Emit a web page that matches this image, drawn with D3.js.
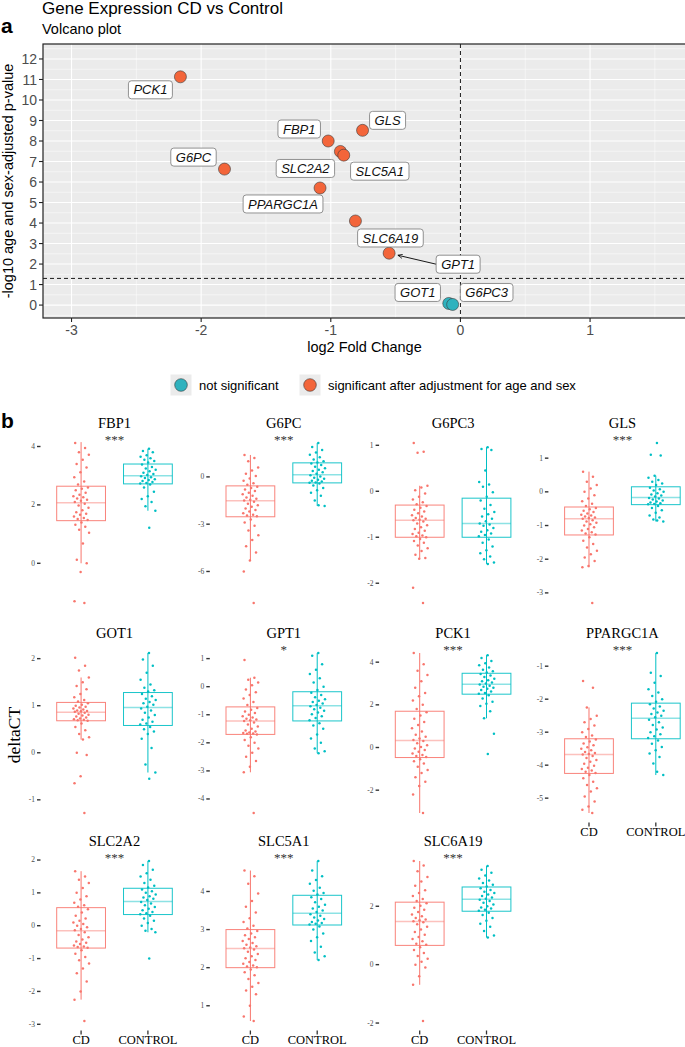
<!DOCTYPE html>
<html><head><meta charset="utf-8">
<script src="https://cdn.jsdelivr.net/npm/d3@7"></script>
<style>body{margin:0;background:#fff} svg{display:block}</style>
</head><body><svg id="c" width="685" height="1047"></svg>
<script>
// ---------------- Volcano data ----------------
const volcanoGenes   = ["PCK1","G6PC","FBP1","GLS","SLC2A2","SLC5A1","PPARGC1A","SLC6A19","GPT1","GOT1","G6PC3"];
const volcanoLogFC   = [-2.16,-1.82,-1.02,-0.755,-0.926,-0.90,-1.083,-0.81,-0.55,-0.09,-0.06];
const volcanoNegLogP = [11.13,6.63,8.0,8.52,7.49,7.31,5.71,4.1,2.53,0.08,0.03];
const volcanoSig     = [1,1,1,1,1,1,1,1,1,0,0];
const volcanoXTicks  = [-3,-2,-1,0,1];
const volcanoYTicks  = [0,1,2,3,4,5,6,7,8,9,10,11,12];
const pThreshold     = 1.3;
const legendLabels   = ["not significant","significant after adjustment for age and sex"];

// ---------------- Boxplot data ----------------
const boxGenes = ["FBP1","G6PC","G6PC3","GLS","GOT1","GPT1","PCK1","PPARGC1A","SLC2A2","SLC5A1","SLC6A19"];
const boxStars = ["***","***","","***","","*","***","***","***","***","***"];
const groups = ["CD","CONTROL"];
const boxYTicks = [[0,2,4],[-6,-3,0],[-2,-1,0,1],[-3,-2,-1,0,1],[-1,0,1,2],[-4,-3,-2,-1,0,1],[-2,0,2,4],[-5,-4,-3,-2,-1],[-3,-2,-1,0,1,2],[1,2,3,4],[-2,0,2]];
// [lower whisker, q1, median, q3, upper whisker]
const cdStats = [
  [0.0,1.46,2.07,2.64,4.15],[-5.3,-2.53,-1.52,-0.57,1.39],[-1.47,-1.0,-0.63,-0.3,0.12],[-2.24,-1.28,-0.8,-0.45,0.6],
  [0.28,0.68,0.86,1.07,1.6],[-3.05,-1.7,-1.22,-0.72,0.32],[-3.07,-0.47,0.33,1.7,4.43],[-5.45,-4.25,-3.68,-3.2,-2.25],
  [-2.25,-0.68,-0.15,0.55,1.66],[0.6,2.0,2.5,3.0,4.55],[-0.69,0.66,1.48,2.14,3.55]];
const ctrlStats = [
  [1.8,2.72,3.0,3.4,3.92],[-1.84,-0.38,0.13,0.89,2.15],[-1.58,-1.0,-0.7,-0.15,0.96],[-0.88,-0.38,-0.17,0.15,0.48],
  [-0.42,0.58,0.96,1.28,2.12],[-2.37,-1.22,-0.68,-0.18,1.2],[1.37,2.5,2.97,3.48,4.33],[-4.3,-3.2,-2.58,-2.12,-0.6],
  [-0.2,0.34,0.74,1.14,1.97],[2.2,3.12,3.43,3.9,4.8],[0.93,1.83,2.24,2.66,3.38]];
const cdPoints = [
  [4.12,3.95,3.8,3.72,3.55,3.4,3.28,3.12,2.95,2.8,2.7,2.6,2.55,2.5,2.42,2.35,2.3,2.26,2.22,2.18,2.14,2.1,2.04,1.98,1.9,1.82,1.75,1.7,1.66,1.6,1.55,1.52,1.48,1.4,1.32,1.25,1.15,1.05,0.68,0.12,0.0,-0.3,-1.3,-1.36],
  [1.39,1.2,1.0,0.6,0.4,0.2,0.05,-0.1,-0.25,-0.4,-0.5,-0.62,-0.7,-0.8,-0.9,-1.0,-1.1,-1.2,-1.3,-1.38,-1.45,-1.5,-1.58,-1.7,-1.8,-1.9,-2.0,-2.1,-2.2,-2.3,-2.4,-2.45,-2.5,-2.7,-2.9,-3.1,-3.4,-3.7,-4.0,-4.4,-4.8,-5.3,-6.0,-8.0],
  [1.05,0.86,0.84,0.12,0.08,0.02,-0.05,-0.12,-0.18,-0.24,-0.28,-0.32,-0.36,-0.4,-0.44,-0.48,-0.52,-0.55,-0.58,-0.6,-0.62,-0.63,-0.66,-0.7,-0.74,-0.78,-0.82,-0.86,-0.9,-0.93,-0.96,-0.98,-1.0,-1.04,-1.08,-1.12,-1.18,-1.24,-1.3,-1.38,-1.45,-1.47,-2.1,-2.43],
  [0.6,0.45,0.3,0.2,0.1,0.0,-0.1,-0.2,-0.28,-0.35,-0.42,-0.48,-0.52,-0.56,-0.6,-0.64,-0.68,-0.7,-0.73,-0.76,-0.78,-0.8,-0.84,-0.88,-0.92,-0.96,-1.0,-1.05,-1.1,-1.15,-1.2,-1.24,-1.27,-1.35,-1.45,-1.55,-1.65,-1.75,-1.85,-1.95,-2.05,-2.2,-2.24,-3.3],
  [2.02,1.85,1.75,1.6,1.5,1.42,1.35,1.25,1.18,1.12,1.09,1.05,1.02,1.0,0.98,0.96,0.94,0.92,0.9,0.89,0.88,0.87,0.85,0.83,0.81,0.79,0.77,0.75,0.73,0.71,0.7,0.69,0.68,0.62,0.55,0.48,0.4,0.33,0.28,0.0,-0.05,-0.5,-0.65,-1.28],
  [0.95,0.32,0.25,0.15,0.05,-0.1,-0.2,-0.3,-0.42,-0.55,-0.65,-0.76,-0.82,-0.88,-0.94,-1.0,-1.05,-1.1,-1.14,-1.17,-1.2,-1.22,-1.28,-1.35,-1.42,-1.5,-1.56,-1.6,-1.63,-1.65,-1.67,-1.68,-1.7,-1.8,-1.9,-2.0,-2.1,-2.2,-2.35,-2.5,-2.65,-2.85,-3.05,-4.5],
  [4.43,3.9,3.6,3.4,3.1,2.8,2.55,2.4,2.2,2.0,1.8,1.65,1.5,1.35,1.2,1.05,0.9,0.75,0.6,0.5,0.42,0.35,0.3,0.2,0.1,0.02,-0.05,-0.12,-0.2,-0.28,-0.35,-0.4,-0.45,-0.55,-0.65,-0.75,-0.9,-1.05,-1.2,-1.4,-1.6,-1.8,-2.2,-3.07],
  [-1.45,-1.65,-2.25,-2.5,-2.6,-2.7,-2.8,-2.9,-3.0,-3.1,-3.15,-3.22,-3.28,-3.34,-3.4,-3.46,-3.5,-3.55,-3.6,-3.63,-3.66,-3.68,-3.72,-3.78,-3.84,-3.9,-3.96,-4.02,-4.08,-4.12,-4.16,-4.2,-4.24,-4.3,-4.4,-4.5,-4.6,-4.7,-4.8,-4.95,-5.1,-5.25,-5.35,-5.45],
  [1.66,1.5,1.4,1.3,1.15,1.0,0.9,0.8,0.7,0.62,0.58,0.5,0.4,0.3,0.22,0.15,0.1,0.05,0.0,-0.05,-0.1,-0.14,-0.2,-0.28,-0.35,-0.42,-0.48,-0.52,-0.56,-0.6,-0.63,-0.65,-0.67,-0.75,-0.85,-0.95,-1.05,-1.15,-1.3,-1.45,-1.7,-2.0,-2.25,-2.9],
  [4.55,4.4,4.2,3.95,3.75,3.6,3.45,3.3,3.2,3.1,3.03,2.96,2.9,2.85,2.8,2.75,2.7,2.65,2.6,2.56,2.53,2.51,2.48,2.42,2.36,2.3,2.25,2.2,2.15,2.1,2.06,2.03,2.01,1.95,1.88,1.8,1.7,1.6,1.5,1.4,1.3,1.0,0.72,0.6],
  [3.55,3.4,3.2,3.0,2.85,2.7,2.55,2.45,2.35,2.25,2.18,2.1,2.02,1.95,1.88,1.8,1.72,1.66,1.6,1.55,1.52,1.49,1.45,1.38,1.3,1.2,1.12,1.02,0.95,0.88,0.8,0.72,0.68,0.6,0.5,0.4,0.3,0.2,0.1,0.0,-0.1,-0.4,-0.69,-1.93]];
const ctrlPoints = [
  [3.92,3.85,3.8,3.7,3.65,3.6,3.55,3.5,3.45,3.38,3.3,3.25,3.2,3.15,3.1,3.06,3.02,2.98,2.95,2.92,2.88,2.85,2.82,2.78,2.75,2.73,2.7,2.6,2.45,2.3,2.2,2.1,1.95,1.8,1.22],
  [2.15,1.9,1.7,1.55,1.4,1.25,1.1,1.0,0.92,0.85,0.75,0.65,0.55,0.45,0.38,0.3,0.2,0.1,0.02,-0.05,-0.12,-0.18,-0.24,-0.3,-0.35,-0.37,-0.42,-0.55,-0.7,-0.85,-1.0,-1.2,-1.5,-1.84,-1.8],
  [0.96,0.92,0.9,0.45,0.2,0.15,0.1,-0.02,-0.12,-0.2,-0.3,-0.38,-0.45,-0.5,-0.55,-0.6,-0.65,-0.7,-0.72,-0.75,-0.8,-0.85,-0.88,-0.92,-0.95,-0.98,-1.05,-1.12,-1.2,-1.28,-1.35,-1.42,-1.48,-1.55,-1.58],
  [1.45,1.1,1.08,0.48,0.42,0.35,0.3,0.25,0.2,0.12,0.08,0.04,0.0,-0.04,-0.08,-0.11,-0.14,-0.18,-0.2,-0.23,-0.26,-0.29,-0.32,-0.34,-0.36,-0.37,-0.42,-0.48,-0.55,-0.62,-0.7,-0.76,-0.82,-0.88,-0.85],
  [2.12,1.98,1.85,1.7,1.55,1.45,1.38,1.33,1.3,1.25,1.2,1.15,1.12,1.08,1.05,1.02,0.98,0.94,0.9,0.85,0.8,0.75,0.7,0.66,0.62,0.6,0.55,0.5,0.45,0.4,0.3,0.1,-0.25,-0.42,-0.55],
  [1.2,1.1,0.8,0.6,0.45,0.3,0.15,0.0,-0.12,-0.22,-0.3,-0.38,-0.45,-0.5,-0.55,-0.6,-0.65,-0.7,-0.75,-0.8,-0.86,-0.92,-0.98,-1.05,-1.12,-1.2,-1.3,-1.38,-1.5,-1.7,-1.85,-2.0,-2.2,-2.3,-2.37],
  [4.33,4.2,4.05,3.95,3.85,3.75,3.65,3.58,3.52,3.44,3.38,3.3,3.22,3.15,3.1,3.05,3.0,2.95,2.9,2.85,2.8,2.75,2.7,2.62,2.56,2.52,2.45,2.3,2.15,2.05,1.95,1.7,1.37,0.65,-0.3],
  [-0.6,-1.2,-1.3,-1.5,-1.7,-1.8,-1.9,-2.0,-2.08,-2.15,-2.22,-2.28,-2.35,-2.4,-2.45,-2.5,-2.55,-2.62,-2.7,-2.78,-2.86,-2.92,-3.0,-3.06,-3.12,-3.18,-3.25,-3.35,-3.45,-3.55,-3.65,-3.75,-3.95,-4.3,-4.2],
  [1.97,1.85,1.7,1.6,1.5,1.4,1.3,1.22,1.16,1.1,1.05,1.0,0.95,0.9,0.86,0.82,0.78,0.72,0.68,0.62,0.57,0.52,0.47,0.42,0.38,0.35,0.3,0.22,0.15,0.08,0.0,-0.1,-0.15,-0.2,-1.0],
  [4.8,4.55,4.4,4.3,4.2,4.1,4.02,3.96,3.92,3.85,3.8,3.72,3.65,3.6,3.55,3.5,3.46,3.4,3.36,3.32,3.28,3.24,3.2,3.17,3.15,3.13,3.08,3.0,2.9,2.8,2.7,2.55,2.4,2.3,2.2],
  [3.38,3.25,3.15,3.05,2.95,2.88,2.8,2.74,2.68,2.62,2.56,2.5,2.45,2.4,2.35,2.3,2.26,2.22,2.18,2.12,2.06,2.0,1.96,1.92,1.88,1.85,1.78,1.7,1.6,1.5,1.4,1.3,1.15,1.0,0.93]];

// ---------------- layout (not data) ----------------
const labelNudge = [[-30,13],[-31,-12],[-29,-12],[25,-10],[-35,17],[36,16],[-37,16],[35,17],[69,11],[-31,-11],[34,-12]];
const SANS = "'Liberation Sans', Arial, Helvetica, sans-serif";
const SERIF = "'Liberation Serif', 'Times New Roman', serif";
const ORANGE = "#F3653A", TEAL = "#2FB2BE";
const RED = "#F8766D", CYAN = "#00BFC4";

const svg = d3.select("#c");

// ---------- titles ----------
svg.append("text").attr("x",42).attr("y",14).attr("font-family",SANS).attr("font-size",17).text("Gene Expression CD vs Control");
svg.append("text").attr("x",42).attr("y",34).attr("font-family",SANS).attr("font-size",14.5).text("Volcano plot");
svg.append("text").attr("x",1).attr("y",33).attr("font-family",SANS).attr("font-weight","bold").attr("font-size",21).text("a");
svg.append("text").attr("x",1).attr("y",428).attr("font-family",SANS).attr("font-weight","bold").attr("font-size",21).text("b");

// ---------- volcano ----------
const L=43, T=44, R=686, B=318;
const vx = d3.scaleLinear([-3.22,1.74],[L,R]);
const vy = d3.scaleLinear([-0.63,12.73],[B,T]);
const vg = svg.append("g");
vg.append("rect").attr("x",L).attr("y",T).attr("width",R-L).attr("height",B-T).attr("fill","#EBEBEB");
const minorX = [-2.5,-1.5,-0.5,0.5,1.5];
const minorY = d3.range(-0.5,13,1);
vg.selectAll(".mx").data(minorX).join("line").attr("x1",d=>vx(d)).attr("x2",d=>vx(d)).attr("y1",T).attr("y2",B).attr("stroke","#fff").attr("stroke-width",0.5);
vg.selectAll(".my").data(minorY.filter(d=>d>-0.63&&d<12.73)).join("line").attr("y1",d=>vy(d)).attr("y2",d=>vy(d)).attr("x1",L).attr("x2",R).attr("stroke","#fff").attr("stroke-width",0.5);
vg.selectAll(".Mx").data(volcanoXTicks).join("line").attr("x1",d=>vx(d)).attr("x2",d=>vx(d)).attr("y1",T).attr("y2",B).attr("stroke","#fff").attr("stroke-width",1.1);
vg.selectAll(".My").data(volcanoYTicks).join("line").attr("y1",d=>vy(d)).attr("y2",d=>vy(d)).attr("x1",L).attr("x2",R).attr("stroke","#fff").attr("stroke-width",1.1);
vg.append("line").attr("x1",vx(0)).attr("x2",vx(0)).attr("y1",T).attr("y2",B).attr("stroke","#000").attr("stroke-width",0.9).attr("stroke-dasharray","4,3");
vg.append("line").attr("x1",L).attr("x2",R).attr("y1",vy(pThreshold)).attr("y2",vy(pThreshold)).attr("stroke","#000").attr("stroke-width",0.9).attr("stroke-dasharray","4,3");

const vdata = volcanoGenes.map((g,i)=>({g, x:volcanoLogFC[i], y:volcanoNegLogP[i], s:volcanoSig[i], n:labelNudge[i]}));
const defs = svg.append("defs");
defs.append("marker").attr("id","arr").attr("viewBox","0 0 8 8").attr("refX",7).attr("refY",4).attr("markerWidth",6).attr("markerHeight",6).attr("orient","auto")
  .append("path").attr("d","M0,0.8 L7,4 L0,7.2").attr("fill","none").attr("stroke","#000").attr("stroke-width",1);

vg.selectAll(".pt").data(vdata).join("circle").attr("cx",d=>vx(d.x)).attr("cy",d=>vy(d.y)).attr("r",6)
  .attr("fill",d=>d.s?ORANGE:TEAL).attr("stroke","#3a3a3a").attr("stroke-width",0.6);

vdata.forEach(d=>{
  const px=vx(d.x), py=vy(d.y);
  const cx=px+d.n[0], cy=py+d.n[1];
  const lg = vg.append("g");
  const t = lg.append("text").attr("x",cx).attr("y",cy).attr("dy","0.36em").attr("text-anchor","middle")
    .attr("font-family",SANS).attr("font-style","italic").attr("font-size",13).attr("fill","#111").text(d.g);
  const w = t.node().getComputedTextLength()+10, h=18;
  if (Math.hypot(d.n[0],d.n[1])>50){
    const sx = cx - w/2, sy = cy;
    const dx = px-sx, dy=py-sy, len=Math.hypot(dx,dy);
    const ex = px - dx/len*9, ey = py - dy/len*9;
    lg.insert("line","text").attr("x1",sx).attr("y1",sy).attr("x2",ex).attr("y2",ey).attr("stroke","#000").attr("stroke-width",0.9).attr("marker-end","url(#arr)");
  }
  lg.insert("rect","text").attr("x",cx-w/2).attr("y",cy-h/2).attr("width",w).attr("height",h).attr("rx",3)
    .attr("fill","#fff").attr("stroke","#777").attr("stroke-width",0.8);
});

vg.append("rect").attr("x",L).attr("y",T).attr("width",R-L).attr("height",B-T).attr("fill","none").attr("stroke","#222").attr("stroke-width",1.2);
vg.selectAll(".yt").data(volcanoYTicks).join("line").attr("x1",L-4).attr("x2",L).attr("y1",d=>vy(d)).attr("y2",d=>vy(d)).attr("stroke","#222").attr("stroke-width",1.1);
vg.selectAll(".yl").data(volcanoYTicks).join("text").attr("x",L-6).attr("y",d=>vy(d)).attr("dy","0.36em").attr("text-anchor","end")
  .attr("font-family",SANS).attr("font-size",14).attr("fill","#4D4D4D").text(d=>d);
vg.selectAll(".xt").data(volcanoXTicks).join("line").attr("y1",B).attr("y2",B+4).attr("x1",d=>vx(d)).attr("x2",d=>vx(d)).attr("stroke","#222").attr("stroke-width",1.1);
vg.selectAll(".xl").data(volcanoXTicks).join("text").attr("x",d=>vx(d)).attr("y",B+17).attr("text-anchor","middle")
  .attr("font-family",SANS).attr("font-size",14).attr("fill","#4D4D4D").text(d=>d);
vg.append("text").attr("x",(L+R)/2).attr("y",352).attr("text-anchor","middle").attr("font-family",SANS).attr("font-size",14.5).text("log2 Fold Change");
vg.append("text").attr("transform",`translate(13,${(T+B)/2}) rotate(-90)`).attr("text-anchor","middle").attr("font-family",SANS).attr("font-size",14.5).text("-log10 age and sex-adjusted p-value");

const legX = [181,310], legCol=[TEAL,ORANGE];
legendLabels.forEach((lab,i)=>{
  svg.append("rect").attr("x",legX[i]-10.5).attr("y",374.5).attr("width",21).attr("height",21).attr("fill","#EBEBEB");
  svg.append("circle").attr("cx",legX[i]).attr("cy",385).attr("r",6.3).attr("fill",legCol[i]).attr("stroke","#3a3a3a").attr("stroke-width",0.6);
  svg.append("text").attr("x",legX[i]+18).attr("y",385).attr("dy","0.36em").attr("font-family",SANS).attr("font-size",13).text(lab);
});

// ---------- boxplots ----------
const colLeft = c => 41 + c*169.3;
const rowTop = [435,645,853];
const PW = 147, PH = 176;
svg.append("text").attr("transform","translate(20,735) rotate(-90)").attr("text-anchor","middle").attr("font-family",SERIF).attr("font-size",17.5).text("deltaCT");

const jit = (i,ph) => (((i*0.6180339887+ph)%1)-0.5)*16;

boxGenes.forEach((gene,i)=>{
  const col=i%4, row=Math.floor(i/4);
  const left=colLeft(col), top=rowTop[row], bottom=top+PH;
  const x = d3.scalePoint(groups,[left,left+PW]).padding(0.6);
  const all = cdPoints[i].concat(ctrlPoints[i]);
  const [mn,mx] = d3.extent(all); const pad=(mx-mn)*0.05;
  const y = d3.scaleLinear([mn-pad,mx+pad],[bottom,top]);
  const g = svg.append("g");
  const bw = x.step()*0.73;
  const sets = [{k:"CD",st:cdStats[i],pts:cdPoints[i],c:RED,ph:0.13},{k:"CONTROL",st:ctrlStats[i],pts:ctrlPoints[i],c:CYAN,ph:0.57}];
  sets.forEach(s=>{
    const cx=x(s.k);
    g.append("line").attr("x1",cx).attr("x2",cx).attr("y1",y(s.st[0])).attr("y2",y(s.st[4])).attr("stroke",s.c).attr("stroke-width",1);
    g.append("rect").attr("x",cx-bw/2).attr("width",bw).attr("y",y(s.st[3])).attr("height",y(s.st[1])-y(s.st[3]))
      .attr("fill","none").attr("stroke",s.c).attr("stroke-width",1).attr("stroke-opacity",0.9);
    g.append("line").attr("x1",cx-bw/2).attr("x2",cx+bw/2).attr("y1",y(s.st[2])).attr("y2",y(s.st[2])).attr("stroke",s.c).attr("stroke-width",1.5).attr("stroke-opacity",0.45);
    g.selectAll(null).data(s.pts).join("circle").attr("cx",(d,j)=>cx+jit(j,s.ph)).attr("cy",d=>y(d)).attr("r",1.25).attr("fill",s.c);
  });
  g.selectAll(null).data(boxYTicks[i]).join("line").attr("x1",left-4).attr("x2",left-0.5).attr("y1",d=>y(d)).attr("y2",d=>y(d)).attr("stroke","#333").attr("stroke-width",1.4);
  g.selectAll(null).data(boxYTicks[i]).join("text").attr("x",left-6).attr("y",d=>y(d)).attr("dy","0.33em").attr("text-anchor","end")
    .attr("font-family",SERIF).attr("font-size",7.5).attr("fill","#4D4D4D").text(d=>d);
  g.append("text").attr("x",left+PW/2).attr("y",top-7).attr("text-anchor","middle").attr("font-family",SERIF).attr("font-size",14.5).text(gene);
  if (boxStars[i]) g.append("text").attr("x",left+PW/2).attr("y",top+9).attr("text-anchor","middle").attr("font-family",SERIF).attr("font-size",13).attr("fill","#333").text(boxStars[i]);
  if (i>=7){
    g.selectAll(null).data(groups).join("line").attr("x1",d=>x(d)).attr("x2",d=>x(d)).attr("y1",bottom+1.5).attr("y2",bottom+5.5).attr("stroke","#333").attr("stroke-width",1.3);
    g.selectAll(null).data(groups).join("text").attr("x",d=>x(d)).attr("y",bottom+15).attr("text-anchor","middle").attr("font-family",SERIF).attr("font-size",12.5).text(d=>d);
  }
});
</script></body></html>
